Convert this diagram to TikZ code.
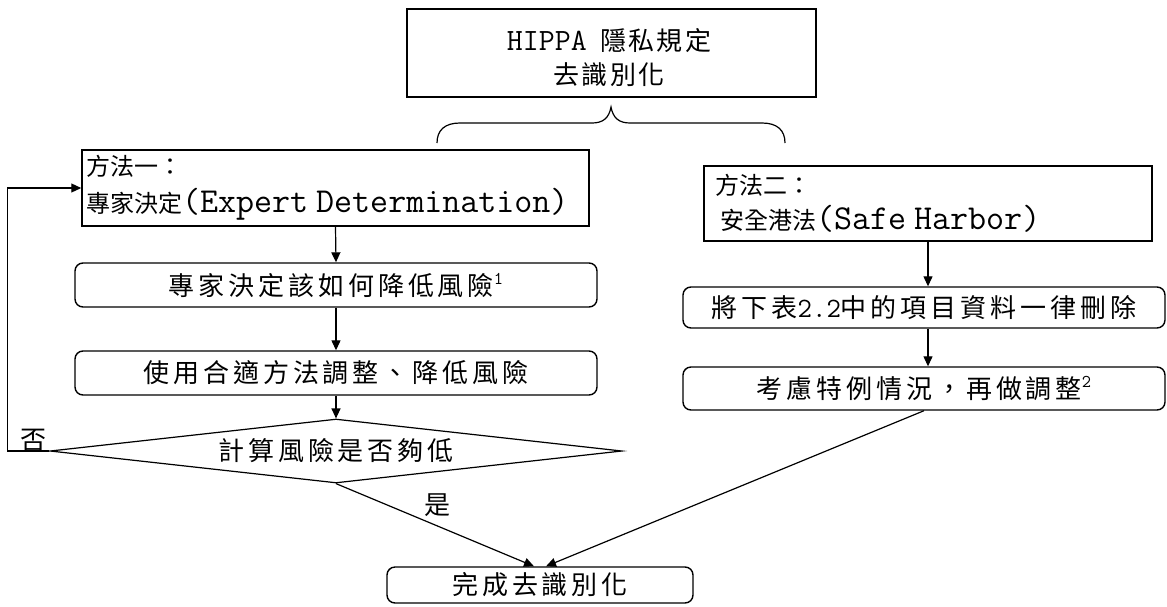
\documentclass[tikz,border=0pt]{standalone}
\usepackage{fontspec}
\setmainfont{Noto Sans CJK TC}
\setmonofont{Latin Modern Mono}
\newfontfamily\cjkwide{Noto Sans CJK TC}[LetterSpace=15]
\newfontfamily\cjkmid{Noto Sans CJK TC}[LetterSpace=8]
\usetikzlibrary{arrows.meta,shapes.geometric,calc}

% Latin runs in the typewriter face, and small raised note numbers
\newcommand{\lattxt}[1]{{\ttfamily\fontsize{35}{35}\selectfont #1}}
\newcommand{\latsmall}[1]{{\ttfamily\fontsize{28}{28}\selectfont #1}}
\newcommand{\notemark}[1]{\raisebox{11pt}{\ttfamily\fontsize{18}{18}\selectfont #1}}

\tikzset{
  plainbox/.style={draw, line width=1.5pt, rectangle, inner sep=0pt},
  roundbox/.style={draw, line width=1.4pt, rectangle, rounded corners=8pt, inner sep=0pt,
                   font=\cjkwide\fontsize{26}{30}\selectfont},
  conn/.style={line width=1.2pt},
  arr/.style={conn, -{Triangle[length=10pt,width=9pt]}},
  tag/.style={inner sep=0pt, font=\fontsize{26}{30}\selectfont},
}

\begin{document}
\begin{tikzpicture}[x=1pt, y=-1pt]
\fill[white] (0,0) rectangle (1167,606);
\useasboundingbox (0,0) rectangle (1167,606);

% heading box
\node[plainbox, minimum width=409pt, minimum height=88pt] (top) at (611.5,53) {};
\node[align=center, inner sep=0pt, font=\fontsize{26}{34}\selectfont] (toptext) at (609,58)
  {{\ttfamily\fontsize{31}{31}\selectfont HIPPA}\hspace{14pt}{\cjkmid 隱私規定}\\{\cjkmid 去識別化}};

% brace under the heading
\draw[conn] (437,143) .. controls (437,130) and (445,123) .. (460,123) -- (592,123)
  .. controls (603,123) and (609,118) .. (611,107)
  .. controls (613,118) and (619,123) .. (630,123) -- (762,123)
  .. controls (777,123) and (785,130) .. (785,143);

% method one
\node[plainbox, minimum width=507pt, minimum height=76pt, text width=499pt, align=left,
      inner xsep=4pt, font=\fontsize{24}{37}\selectfont] (m1) at (335.5,188)
  {方法一：\\專家決定\lattxt{(Expert Determination)}};
\node[roundbox, minimum width=522pt, minimum height=44pt] (a1) at (336,285)
  {專家決定該如何降低風險\notemark{1}};
\node[roundbox, minimum width=522pt, minimum height=44pt] (a2) at (336,373)
  {使用合適方法調整、降低風險};
\node[diamond, draw, line width=1.2pt, shape aspect=9, minimum width=572pt, minimum height=64pt,
      inner sep=0pt, font=\cjkwide\fontsize{26}{30}\selectfont] (dec) at (336,451)
  {計算風險是否夠低};

% method two
\node[plainbox, minimum width=448pt, minimum height=75pt, text width=426pt, align=left,
      inner xsep=11pt, font=\fontsize{24}{35}\selectfont] (m2) at (928,203.5)
  {方法二：\\\hspace*{5pt}安全港法\lattxt{(Safe Harbor)}};
\node[roundbox, minimum width=482pt, minimum height=41pt] (b1) at (924,307.5)
  {將下表\latsmall{2.2}中的項目資料一律刪除};
\node[roundbox, minimum width=482pt, minimum height=43pt] (b2) at (924,388.5)
  {考慮特例情況，再做調整\notemark{2}};

% end state
\node[roundbox, minimum width=306pt, minimum height=36pt] (fin) at (540,585)
  {完成去識別化};

% connectors
\draw[arr] (m1.south) -- (a1.north);
\draw[arr] (a1.south) -- (a2.north);
\draw[arr] (a2.south) -- (dec.north);
\draw[arr] (dec.west) -- ++(-42,0) |- (m1.west);
\node[tag] (no) at (33,440) {否};
\draw[arr] (dec.south) -- ($(fin.north)+(-6,0)$);
\node[tag] (yes) at (437,505) {是};

\draw[arr] (m2.south) -- (m2.south |- b1.north);
\draw[arr] (b1.south -| m2.south) -- (m2.south |- b2.north);
\draw[arr] (b2.south) -- ($(fin.north)+(6,0)$);
\end{tikzpicture}
\end{document}
